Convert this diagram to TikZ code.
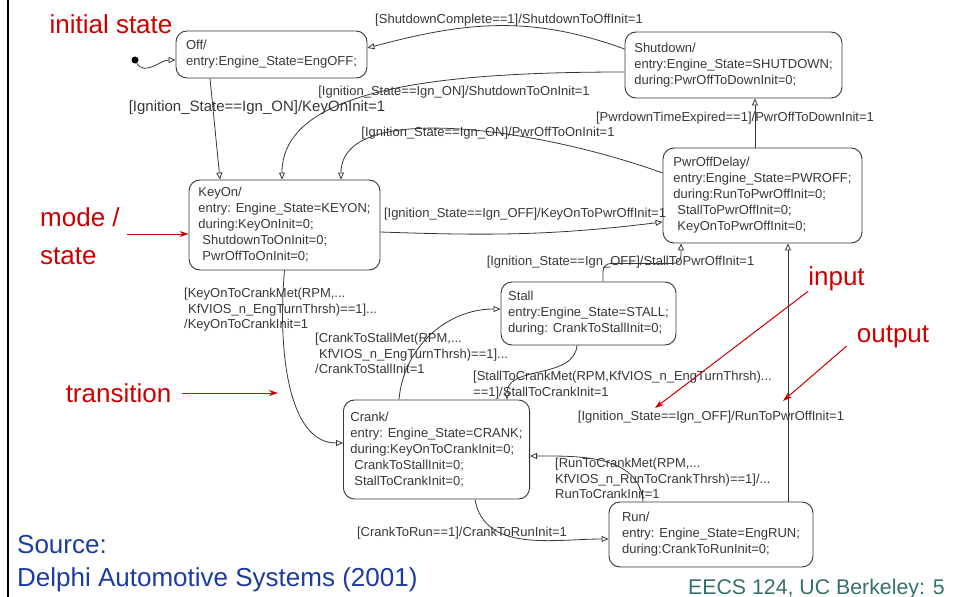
\documentclass[tikz,border=0pt]{standalone}
\usepackage{fontspec}
\setmainfont{Liberation Sans}
\usetikzlibrary{arrows.meta}

\definecolor{diaggray}{RGB}{55,55,55}
\definecolor{notered}{RGB}{204,0,0}
\definecolor{srcblue}{RGB}{28,60,160}
\definecolor{footteal}{RGB}{55,110,110}
\newcommand{\diagfont}{\fontsize{13}{16}\selectfont}
\newcommand{\guardfont}{\fontsize{13}{15.5}\selectfont}
\newcommand{\notefont}{\fontsize{26}{38}\selectfont}

\begin{document}
\begin{tikzpicture}[x=1pt, y=1pt,
  state/.style={draw=diaggray, line width=0.9pt, rounded corners=11pt, align=left, inner xsep=7pt, inner ysep=0pt, font=\diagfont, text=diaggray},
  trans/.style={draw=diaggray, line width=0.8pt, -{Triangle[open, length=7pt, width=6pt]}},
  guard/.style={font=\guardfont, text=diaggray, inner sep=0pt, align=left},
  note/.style={font=\notefont, text=notered, inner sep=0pt, align=left},
  pointer/.style={draw=notered, line width=1pt, -{Stealth[length=9pt, width=6pt]}}]

  \useasboundingbox (0,0) rectangle (959,-597);
  \draw[line width=2.6pt] (8,0) -- (8,-597);

  % states
  \node[state, minimum width=191pt, minimum height=47pt] (off) at (271.5,-54.5)
  {Off/\\entry:Engine\_State=EngOFF;};
  \node[state, minimum width=217pt, minimum height=66pt] (shutdown) at (733.5,-65)
  {Shutdown/\\entry:Engine\_State=SHUTDOWN;\\during:PwrOffToDownInit=0;};
  \node[state, minimum width=191pt, minimum height=90pt] (keyon) at (284.5,-225)
  {KeyOn/\\entry: Engine\_State=KEYON;\\during:KeyOnInit=0;\\\hspace*{4pt}ShutdownToOnInit=0;\\\hspace*{4pt}PwrOffToOnInit=0;};
  \node[state, minimum width=199pt, minimum height=95pt] (pwroff) at (762.5,-195.5)
  {PwrOffDelay/\\entry:Engine\_State=PWROFF;\\during:RunToPwrOffInit=0;\\\hspace*{4pt}StallToPwrOffInit=0;\\\hspace*{4pt}KeyOnToPwrOffInit=0;};
  \node[state, minimum width=175pt, minimum height=63pt] (stall) at (588.5,-313.5)
  {Stall\\entry:Engine\_State=STALL;\\during: CrankToStallInit=0;};
  \node[state, minimum width=183pt, minimum height=99pt] (crank) at (436.5,-449.5)
  {Crank/\\entry: Engine\_State=CRANK;\\during:KeyOnToCrankInit=0;\\\hspace*{4pt}CrankToStallInit=0;\\\hspace*{4pt}StallToCrankInit=0;};
  \node[state, minimum width=204pt, minimum height=65pt] (run) at (711,-534.5)
  {Run/\\entry: Engine\_State=EngRUN;\\during:CrankToRunInit=0;};

  \node[circle, fill=black, inner sep=0pt, minimum size=7pt] (init) at (135,-60) {};

  % transitions
  \draw[trans] (init) to[out=-60, in=180] ([yshift=-5.5pt]off.west);
  \draw[trans] ([yshift=16pt]shutdown.west) to[out=160, in=15] ([yshift=6.5pt]off.east);
  \draw[trans] ([xshift=-61.5pt]off.south) -- ([xshift=-64.5pt]keyon.north);
  \draw[trans] ([yshift=-7pt]shutdown.west) to[out=180, in=90, out distance=190pt, in distance=90pt] ([xshift=-2.5pt]keyon.north);
  \draw[trans] ([yshift=22.5pt]pwroff.west) to[out=160, in=90, out distance=130pt, in distance=80pt] ([xshift=56.5pt]keyon.north);
  \draw[trans] ([yshift=-7pt]keyon.east) to[out=-2, in=187] ([yshift=-26.5pt]pwroff.west);
  \draw[trans] ([xshift=-7.5pt]pwroff.north) -- ([xshift=21.5pt]shutdown.south);
  \draw[trans, rounded corners=8pt] ([xshift=14.5pt]stall.north) |- ([xshift=-81.5pt, yshift=-20pt]pwroff.south) -- ([xshift=-81.5pt]pwroff.south);
  \draw[trans] ([xshift=-11.5pt]stall.south) to[out=-95, in=90] ([xshift=70.5pt]crank.north);
  \draw[trans] ([xshift=-37.5pt]crank.north) to[out=85, in=180] ([yshift=4.5pt]stall.west);
  \draw[trans] (keyon.south) to[out=-95, in=180, out distance=80pt, in distance=55pt] ([yshift=6.5pt]crank.west);
  \draw[trans] ([xshift=38.5pt]crank.south) to[out=-80, in=180] ([yshift=-4.5pt]run.west);
  \draw[trans] ([xshift=-68pt]run.north) to[out=95, in=0] ([yshift=-6.5pt]crank.east);
  \draw[trans] ([xshift=77pt]run.north) -- ([xshift=25.5pt]pwroff.south);

  % guards
  \node[guard] (shutofflbl) at (509,-20) {[ShutdownComplete==1]/ShutdownToOffInit=1};
  \node[guard, font=\fontsize{15}{17}\selectfont] (keyoninitlbl) at (257,-108) {[Ignition\_State==Ign\_ON]/KeyOnInit=1};
  \node[guard] (shutonlbl) at (454,-92) {[Ignition\_State==Ign\_ON]/ShutdownToOnInit=1};
  \node[guard] (pwronlbl) at (488,-133) {[Ignition\_State==Ign\_ON]/PwrOffToOnInit=1};
  \node[guard] (pwrdownlbl) at (735,-118) {[PwrdownTimeExpired==1]/PwrOffToDownInit=1};
  \node[guard] (keyonpwrlbl) at (525,-214) {[Ignition\_State==Ign\_OFF]/KeyOnToPwrOffInit=1};
  \node[guard] (stallpwrlbl) at (620.5,-262) {[Ignition\_State==Ign\_OFF]/StallToPwrOffInit=1};
  \node[guard, anchor=north west] (keyoncranklbl) at (184,-288)
  {[KeyOnToCrankMet(RPM,...\\\hspace*{4pt}KfVIOS\_n\_EngTurnThrsh)==1]...\\/KeyOnToCrankInit=1};
  \node[guard, anchor=north west] (crankstalllbl) at (315,-333)
  {[CrankToStallMet(RPM,...\\\hspace*{4pt}KfVIOS\_n\_EngTurnThrsh)==1]...\\/CrankToStallInit=1};
  \node[guard, anchor=north west] (stallcranklbl) at (473,-371)
  {[StallToCrankMet(RPM,KfVIOS\_n\_EngTurnThrsh)...\\==1]/StallToCrankInit=1};
  \node[guard] (runpwrlbl) at (711,-417) {[Ignition\_State==Ign\_OFF]/RunToPwrOffInit=1};
  \node[guard, anchor=north west] (runcranklbl) at (555,-458)
  {[RunToCrankMet(RPM,...\\KfVIOS\_n\_RunToCrankThrsh)==1]/...\\RunToCrankInit=1};
  \node[guard] (crankrunlbl) at (462,-533) {[CrankToRun==1]/CrankToRunInit=1};

  % annotations
  \node[note] (initlbl) at (111,-24) {initial state};
  \node[note, anchor=west] (modelbl) at (40,-236) {mode /\\state};
  \node[note] (translbl) at (118.5,-393) {transition};
  \node[note] (inlbl) at (836.5,-279) {input};
  \node[note] (outlbl) at (893,-337) {output};
  \coordinate (transpt) at (278,-393);
  \coordinate (inpt) at (655,-408);
  \coordinate (outpt) at (783,-401);
  \draw[pointer] ([xshift=7pt, yshift=2pt]modelbl.east) -- ([yshift=-9pt]keyon.west);
  \draw[pointer] ([xshift=11pt]translbl.east) -- (transpt);
  \draw[pointer] (inlbl.south west) -- (inpt);
  \draw[pointer] ([xshift=-10pt, yshift=-9pt]outlbl.west) -- (outpt);

  \node[anchor=west, font=\notefont, text=srcblue, inner sep=0pt] (srclbl) at (17,-545) {Source:};
  \node[anchor=west, font=\notefont, text=srcblue, inner sep=0pt] (delphilbl) at (17,-580) {Delphi Automotive Systems (2001)};
  \node[anchor=base west, inner sep=0pt, text=footteal, font=\fontsize{21.3}{22}\selectfont] (footlbl) at (688,-594) {EECS 124, UC Berkeley: 5};
\end{tikzpicture}
\end{document}
